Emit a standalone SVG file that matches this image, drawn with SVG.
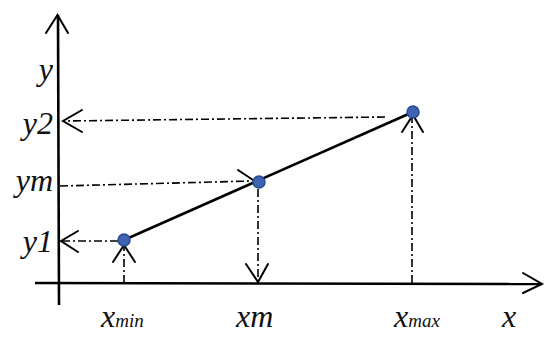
<svg xmlns="http://www.w3.org/2000/svg" width="550" height="345" viewBox="0 0 550 345">
<style>
.axis{stroke:#000;stroke-width:2.6;fill:none;stroke-linecap:butt}
.ah{stroke:#000;stroke-width:2;fill:none;stroke-linecap:round;stroke-linejoin:miter}
.dd{stroke:#000;stroke-width:1.6;fill:none;stroke-dasharray:8 3 2 3}
.solid{stroke:#000;stroke-width:2.6;fill:none}
.pt{fill:#3d64b4;stroke:#2a4a8e;stroke-width:1.5}
.lbl{font-family:'Liberation Serif','DejaVu Serif',serif;font-style:italic;font-size:32px;fill:#111}
.sub{font-size:19px}
</style>
<rect width="550" height="345" fill="#fff"/>
<g id="axes">
<line class="axis" x1="58" y1="15" x2="59" y2="305"/>
<polyline class="ah" points="46,33 57.5,15 68,33"/>
<line class="axis" x1="35" y1="283" x2="542" y2="284"/>
<polyline class="ah" points="523,273 542,284 523,293"/>
</g>
<g id="connectors">
<line class="dd" x1="385" y1="117" x2="63" y2="121"/>
<polyline class="ah" points="82,110 63,121 82,132"/>
<line class="dd" x1="60" y1="186" x2="252" y2="181"/>
<polyline class="ah" points="238,170 253,180"/>
<line class="dd" x1="118" y1="241" x2="62" y2="241"/>
<polyline class="ah" points="78,231 61,241 78,252"/>
<line class="dd" x1="124" y1="283" x2="124" y2="246"/>
<polyline class="ah" points="113,262 124,245 135,262"/>
<line class="dd" x1="258" y1="189" x2="258" y2="281"/>
<polyline class="ah" points="246,264 258,282 268,264"/>
<line class="dd" x1="412" y1="283" x2="412" y2="116"/>
<polyline class="ah" points="402,132 413,115 423,132"/>
<line class="solid" x1="124" y1="240" x2="413" y2="112"/>
</g>
<g id="p1"><circle class="pt" cx="124" cy="240" r="6"/></g>
<g id="pm"><circle class="pt" cx="259" cy="182" r="6"/></g>
<g id="p2"><circle class="pt" cx="413" cy="112" r="6"/></g>
<g id="labels">
<text class="lbl" x="53" y="80" text-anchor="end">y</text>
<text class="lbl" x="53" y="134" text-anchor="end">y2</text>
<text class="lbl" x="53" y="191" text-anchor="end">ym</text>
<text class="lbl" x="53" y="252" text-anchor="end">y1</text>
<text class="lbl" x="101" y="327">x<tspan class="sub">min</tspan></text>
<text class="lbl" x="236" y="327">xm</text>
<text class="lbl" x="394" y="327">x<tspan class="sub">max</tspan></text>
<text class="lbl" x="502" y="327">x</text>
</g>
</svg>
